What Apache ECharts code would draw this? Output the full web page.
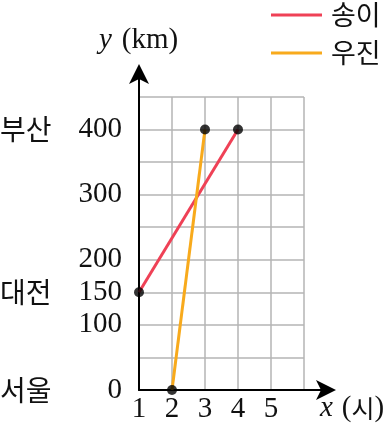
<!DOCTYPE html>
<html><head><meta charset="utf-8">
<script src="https://cdn.jsdelivr.net/npm/echarts@6/dist/echarts.min.js"></script>
<style>html,body{margin:0;padding:0;background:#fff}#c{width:392px;height:428px}</style>
</head><body><div id="c"></div>
<script>
const seriesNames = ['송이', '우진'];
const songiX = [1, 4];
const songiY = [150, 400];
const woojinX = [2, 3];
const woojinY = [0, 400];
const xTickLabels = [1, 2, 3, 4, 5];
const yTickLabels = [0, 100, 150, 200, 300, 400];
const cityValues = [0, 150, 400];
const cityNames = ['서울', '대전', '부산'];

const SERIF = 'Liberation Serif';
const KR = 'Noto Sans CJK KR';
const RED = '#ef4156';
const ORANGE = '#f8aa1c';

const chart = echarts.init(document.getElementById('c'), null, {renderer: 'canvas'});
const pairs = (xs, ys) => xs.map((x, i) => [x, ys[i]]);

chart.setOption({
  animation: false,
  grid: [
    {left: 139, top: 97, width: 165, height: 293, outerBoundsMode: 'none', containLabel: false},
    {left: 139, top: 70, width: 191, height: 320, outerBoundsMode: 'none', containLabel: false}
  ],
  xAxis: [
    {gridIndex: 0, type: 'value', min: 1, max: 6, interval: 1,
     axisLine: {show: false}, axisTick: {show: false},
     splitLine: {show: true, lineStyle: {color: '#b4b4b4', width: 1.5}},
     axisLabel: {show: true, customValues: xTickLabels, fontFamily: SERIF, fontSize: 29, color: '#111', margin: 5}},
    {gridIndex: 1, type: 'value', min: 1, max: 1 + 191 / 33,
     axisLine: {show: true, onZero: false, symbol: ['none', 'arrow'], symbolSize: [15, 20], symbolOffset: [0, 6], lineStyle: {color: '#000', width: 2}},
     axisTick: {show: false}, axisLabel: {show: false}, splitLine: {show: false}}
  ],
  yAxis: [
    {gridIndex: 0, type: 'value', min: 0, max: 450, interval: 50,
     axisLine: {show: false}, axisTick: {show: false},
     splitLine: {show: true, lineStyle: {color: '#b4b4b4', width: 1.5}},
     axisLabel: {show: true, customValues: yTickLabels, fontFamily: SERIF, fontSize: 29, color: '#111', margin: 17}},
    {gridIndex: 0, type: 'value', min: 0, max: 450, position: 'left',
     axisLine: {show: false}, axisTick: {show: false}, splitLine: {show: false},
     axisLabel: {show: true, customValues: cityValues, align: 'left', margin: 139,
       formatter: v => cityNames[cityValues.indexOf(v)], fontFamily: KR, fontSize: 28, color: '#111'}},
    {gridIndex: 1, type: 'value', min: 0, max: 320 / (293 / 450),
     axisLine: {show: true, onZero: false, symbol: ['none', 'arrow'], symbolSize: [15, 20], symbolOffset: [0, 6], lineStyle: {color: '#000', width: 2}},
     axisTick: {show: false}, axisLabel: {show: false}, splitLine: {show: false}}
  ],
  legend: {
    orient: 'vertical', left: 271, top: 1, padding: 0, itemWidth: 51, itemHeight: 3, itemGap: 10,
    icon: 'rect', data: seriesNames,
    textStyle: {fontFamily: KR, fontSize: 27, lineHeight: 28, color: '#111', padding: [0, 0, 0, 4]}
  },
  series: [
    {name: seriesNames[0], type: 'line', xAxisIndex: 0, yAxisIndex: 0, data: pairs(songiX, songiY),
     color: RED, lineStyle: {width: 3, color: RED}, showSymbol: false, clip: false, z: 3},
    {name: seriesNames[1], type: 'line', xAxisIndex: 0, yAxisIndex: 0, data: pairs(woojinX, woojinY),
     color: ORANGE, lineStyle: {width: 3, color: ORANGE}, showSymbol: false, clip: false, z: 3},
    {type: 'scatter', xAxisIndex: 0, yAxisIndex: 0, data: pairs(songiX, songiY).concat(pairs(woojinX, woojinY)),
     symbolSize: 10, itemStyle: {color: '#000'}, clip: false, z: 5}
  ],
  graphic: [
    {type: 'text', left: 99, top: 26, style: {
      text: '{i|y}{s| }{n|(km)}', rich: {
        i: {fontFamily: SERIF, fontStyle: 'italic', fontSize: 29, fill: '#111'},
        s: {fontFamily: SERIF, fontSize: 29, width: 10},
        n: {fontFamily: SERIF, fontSize: 29, fill: '#111'}}}},
    {type: 'text', left: 320, top: 394, style: {
      text: '{i|x}{s| }{n|(}{k|시}{n|)}', rich: {
        i: {fontFamily: SERIF, fontStyle: 'italic', fontSize: 29, fill: '#111'},
        s: {fontFamily: SERIF, fontSize: 29, width: 9},
        n: {fontFamily: SERIF, fontSize: 29, fill: '#111'},
        k: {fontFamily: KR, fontSize: 25, fill: '#111'}}}}
  ]
});
</script></body></html>
